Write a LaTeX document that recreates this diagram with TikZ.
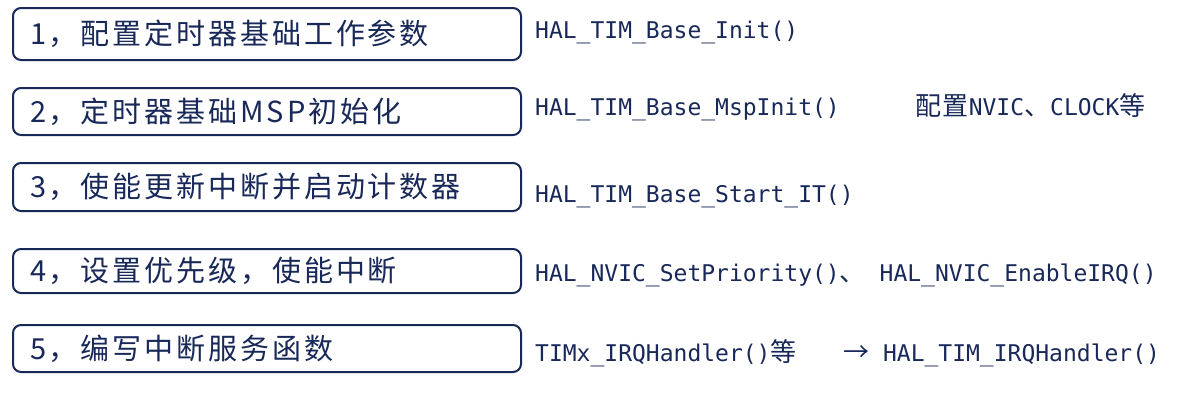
\documentclass[tikz,border=0pt]{standalone}
\usepackage{fontspec}
\setmainfont{DejaVu Sans}
\newfontfamily\cjk[LetterSpace=10]{Noto Sans CJK SC}
\newfontfamily\cjkcode[LetterSpace=6]{Noto Sans CJK SC}
\newfontfamily\codefont{DejaVu Sans Mono}
\definecolor{navy}{RGB}{24,40,88}
\newcommand{\zh}[1]{{\cjkcode\fontsize{26}{30}\selectfont #1}}

\begin{document}
\begin{tikzpicture}[
    x=1pt, y=-1pt,
    stepbox/.style={draw=navy, line width=2pt, rounded corners=8pt, anchor=west, outer sep=0pt,
        inner xsep=17pt, text width=474pt, align=left, text=navy, font=\cjk\fontsize{29}{34}\selectfont},
    code/.style={anchor=base west, inner sep=0pt, text=navy, font=\codefont\fontsize{23}{28}\selectfont}
]
    \useasboundingbox (0, 0) rectangle (1201, 400);

    % STEPS
    \node (step_1) at (13, 34) [stepbox, minimum height=52pt] {1，配置定时器基础工作参数};
    \node (step_2) at (13, 111.5) [stepbox, minimum height=47pt] {2，定时器基础MSP初始化};
    \node (step_3) at (13, 187) [stepbox, minimum height=48pt] {3，使能更新中断并启动计数器};
    \node (step_4) at (13, 271) [stepbox, minimum height=44pt] {4，设置优先级，使能中断};
    \node (step_5) at (13, 348.5) [stepbox, minimum height=47pt] {5，编写中断服务函数};

    % HAL FUNCTIONS
    \node (func_1) at (535, 38) [code] {HAL\_TIM\_Base\_Init()};
    \node (func_2) at (535, 115) [code] {HAL\_TIM\_Base\_MspInit()};
    \node (note_2) at (915, 115) [code] {\zh{配置}NVIC\zh{、}CLOCK\zh{等}}; % MSP config
    \node (func_3) at (535, 202) [code] {HAL\_TIM\_Base\_Start\_IT()};
    \node (func_4) at (535, 281) [code] {HAL\_NVIC\_SetPriority()\zh{、} HAL\_NVIC\_EnableIRQ()};
    \node (func_5) at (535, 361) [code] {TIMx\_IRQHandler()\zh{等}};
    \node (call_5) at (843, 361) [code] {\zh{→} HAL\_TIM\_IRQHandler()}; % called from the IRQ handler
\end{tikzpicture}
\end{document}
